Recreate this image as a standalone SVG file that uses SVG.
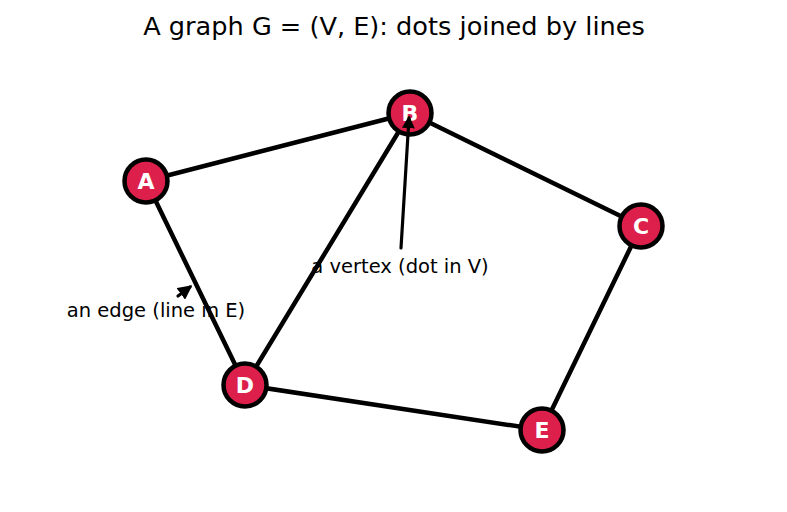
<svg xmlns="http://www.w3.org/2000/svg" width="787" height="512" viewBox="0 0 787 512">
<defs>
<style>
.edge{stroke:#000;stroke-width:4.5;stroke-linecap:round;fill:none}
.node circle{fill:#DC1F4B;stroke:#000;stroke-width:4.5}
.node text{font-family:"DejaVu Sans",sans-serif;font-weight:bold;font-size:22px;fill:#fff;text-anchor:middle}
.lbl{font-family:"DejaVu Sans",sans-serif;font-size:19.5px;fill:#000;text-anchor:middle}
.ann{stroke:#000;stroke-width:3.2;fill:none;stroke-linecap:round}
</style>
<marker id="ah" viewBox="0 0 10 10" refX="8" refY="5" markerWidth="4" markerHeight="4" orient="auto" markerUnits="strokeWidth">
<path d="M0,0 L10,5 L0,10 z" fill="#000"/>
</marker>
<marker id="ah2" viewBox="0 0 10 10" refX="8" refY="5" markerWidth="4.5" markerHeight="4.5" orient="auto" markerUnits="strokeWidth">
<path d="M0,0 L10,5 L0,10 z" fill="#000"/>
</marker>
</defs>
<rect width="787" height="512" fill="#fff"/>
<text x="394" y="35" font-family="DejaVu Sans,sans-serif" font-size="25.6" text-anchor="middle">A graph G = (V, E): dots joined by lines</text>
<g id="labels">
<text class="lbl" x="156" y="317">an edge (line in E)</text>
<text class="lbl" x="400" y="273">a vertex (dot in V)</text>
</g>
<g id="edges">
<line class="edge" x1="146" y1="181" x2="410" y2="113"/>
<line class="edge" x1="410" y1="113" x2="641" y2="226"/>
<line class="edge" x1="146" y1="181" x2="245" y2="385"/>
<line class="edge" x1="410" y1="113" x2="245" y2="385"/>
<line class="edge" x1="641" y1="226" x2="542" y2="430"/>
<line class="edge" x1="245" y1="385" x2="542" y2="430"/>
</g>
<g id="A" class="node"><circle cx="146" cy="181" r="21.5"/><text x="146" y="189">A</text></g>
<g id="B" class="node"><circle cx="410" cy="113" r="21.5"/><text x="410" y="121">B</text></g>
<g id="C" class="node"><circle cx="641" cy="226" r="21.5"/><text x="641" y="234">C</text></g>
<g id="D" class="node"><circle cx="245" cy="385" r="21.5"/><text x="245" y="393">D</text></g>
<g id="E" class="node"><circle cx="542" cy="430" r="21.5"/><text x="542" y="438">E</text></g>
<g id="annotations">
<line class="ann" x1="401" y1="248" x2="409" y2="118" marker-end="url(#ah)"/>
<line class="ann" x1="178" y1="296" x2="190" y2="287" marker-end="url(#ah2)"/>
</g>
</svg>
